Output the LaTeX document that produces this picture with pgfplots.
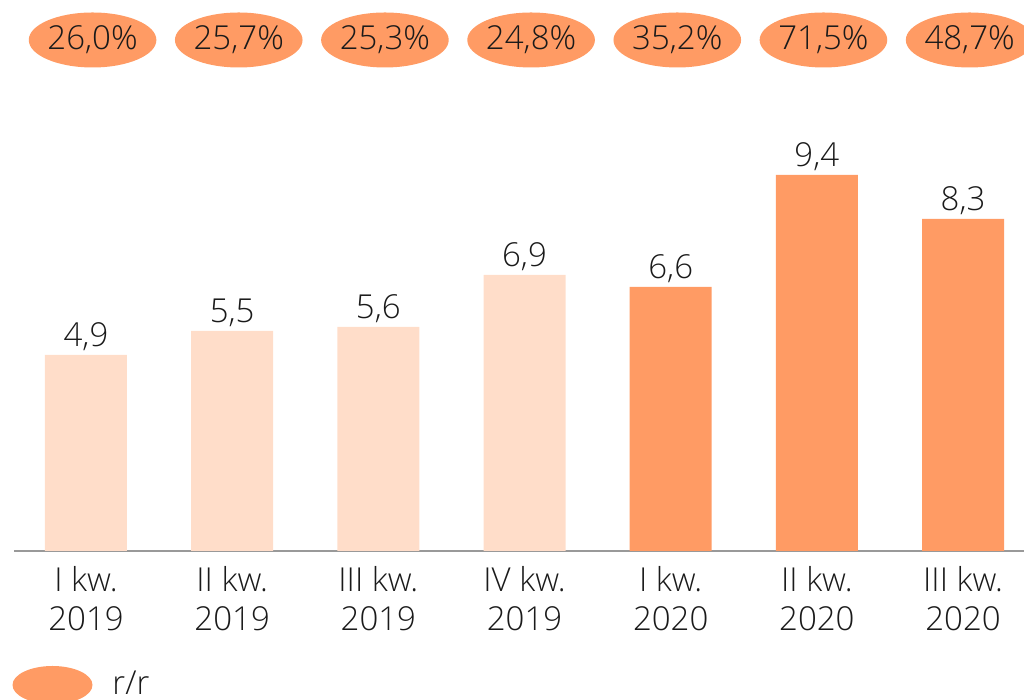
\documentclass[border=0pt]{standalone}
\usepackage{fontspec}
\setmainfont{Open Sans Light}
\usepackage{pgfplots}
\pgfplotsset{compat=1.18}
\usetikzlibrary{shapes.geometric}
\definecolor{dark}{HTML}{FF9B64}
\definecolor{light}{HTML}{FFDDC9}
\definecolor{txt}{HTML}{1A1A1A}
\definecolor{axisgray}{HTML}{999999}
\newcommand{\lblfont}{\fontsize{16.5}{21}\selectfont}
\newcommand{\tickfont}{\fontsize{16.5}{19.8}\selectfont}

\begin{document}
\begin{tikzpicture}
\begin{axis}[
    at={(7pt,74.5pt)}, anchor=south west,
    scale only axis, width=505pt, height=275.5pt,
    xmin=-0.4925, xmax=6.417, ymin=0, ymax=13.775,
    axis y line=none, axis x line*=bottom,
    axis line style={draw=axisgray, line width=0.6pt},
    xtick={0,...,6}, major tick length=0pt,
    xticklabels={{I kw.\\2019},{II kw.\\2019},{III kw.\\2019},{IV kw.\\2019},
                 {I kw.\\2020},{II kw.\\2020},{III kw.\\2020}},
    xticklabel style={align=center, font=\tickfont, text=txt, yshift=-4pt},
    clip=false,
    /pgf/number format/.cd, use comma, fixed, fixed zerofill, precision=1,
        assume math mode=true,
]
% 2019 bars
\addplot[ybar, bar width=41pt, bar shift=0pt, fill=light, draw=none,
    nodes near coords, every node near coord/.append style={font=\lblfont, text=txt, yshift=-1.5pt}]
    coordinates {(0,4.9) (1,5.5) (2,5.6) (3,6.9)};
% 2020 bars
\addplot[ybar, bar width=41pt, bar shift=0pt, fill=dark, draw=none,
    nodes near coords, every node near coord/.append style={font=\lblfont, text=txt, yshift=-1.5pt}]
    coordinates {(4,6.6) (5,9.4) (6,8.3)};
% r/r ellipses
\addplot[draw=none, mark=none, nodes near coords, point meta=explicit symbolic,
    every node near coord/.append style={ellipse, fill=dark, anchor=center,
        minimum width=63pt, minimum height=27.5pt, inner sep=0pt,
        font=\lblfont, text=txt}]
    coordinates {(0.045,12.775) [26,0\%] (1.045,12.775) [25,7\%] (2.045,12.775) [25,3\%]
                 (3.045,12.775) [24,8\%] (4.045,12.775) [35,2\%] (5.045,12.775) [71,5\%]
                 (6.045,12.775) [48,7\%]};
\end{axis}
% legend
\node[ellipse, fill=dark, minimum width=40pt, minimum height=19pt, inner sep=0pt] at (26.25pt,7.5pt) {};
\node[anchor=west, font=\lblfont, text=txt] at (52.7pt,8.5pt) {r/r};
\pgfresetboundingbox
\path[use as bounding box] (0,0) rectangle (512pt,350pt);
\end{tikzpicture}
\end{document}
